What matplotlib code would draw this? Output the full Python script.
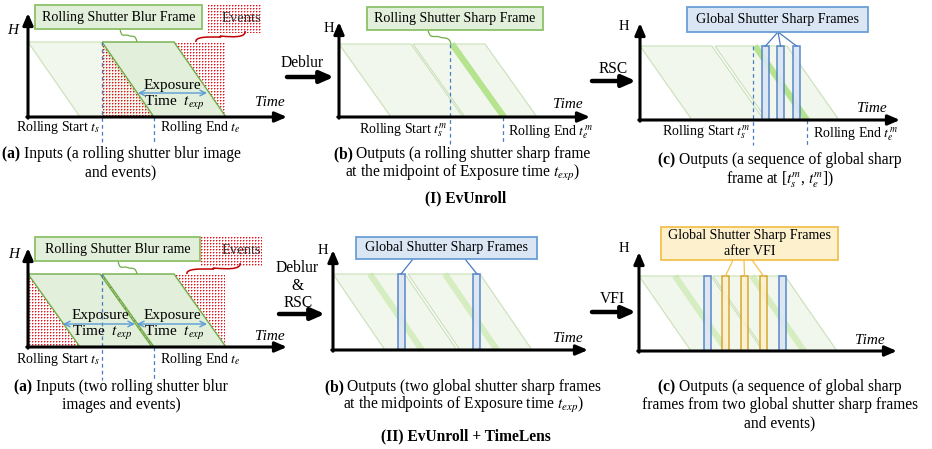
"""
Rolling-shutter timing diagram: EvUnroll vs. EvUnroll + TimeLens
"""
import numpy as np
import matplotlib
import matplotlib.pyplot as plt
from matplotlib.patches import Polygon, Rectangle
from matplotlib.path import Path as MPath
from matplotlib.patches import PathPatch

matplotlib.use("Agg")

plt.rcParams['font.family'] = ['Liberation Serif', 'DejaVu Serif']
plt.rcParams['mathtext.fontset'] = 'stix'

# ---- panel axes: origin x, baseline y, frame-top y, x-axis end, y-axis tip
panel_x0 = [28, 339, 640, 28, 333, 639]
panel_ybot = [117, 117, 120, 347, 350, 351]
panel_ytop = [42, 44, 46, 274, 274, 276]
panel_xend = [287, 590, 900, 287, 588, 897]
panel_ytip = [13, 22, 23, 248, 250, 252]

# rolling-shutter frames (top-left time of each frame), per panel
ghost_frames = [[28], [339, 413], [640, 715], [], [333, 408], [639, 713]]
blur_frames = [[102], [], [], [28, 102], [], []]
frame_width = 72
frame_slant = 52

# sharp rolling-shutter lines (top time), per panel
sharp_lines = [[], [452], [755], [], [], []]
sharp_lines_faint = [[], [], [], [], [370, 445], [675, 752]]

# global shutter frames (left edge)
gs_blue = [[], [], [762, 777, 793], [], [398, 473], [704, 779]]
gs_orange = [[], [], [], [], [], [722, 741, 760]]
gs_width = 7

GREEN_EDGE = '#70ad47'
GREEN_FILL = '#e2efda'
GHOST_FILL = '#f1f7ec'
GHOST_EDGE = '#c9e0b8'
SHARP = '#b5e38e'
BLUE_EDGE = '#4a7cc4'
BLUE_FILL = '#dae6f4'
ORANGE_EDGE = '#d4a020'
ORANGE_FILL = '#fdf0cc'
DASH_BLUE = '#4a7cc4'
RED_RGB = (0.91, 0.06, 0.10)

fig = plt.figure(figsize=(9.32, 4.49), dpi=100)
ax = fig.add_axes([0, 0, 1, 1])


def para(x, ytop, ybot, fc, ec, lw, z):
    pts = [(x, ytop), (x + frame_width, ytop),
           (x + frame_width + frame_slant, ybot), (x + frame_slant, ybot)]
    ax.add_patch(Polygon(pts, closed=True, fc=fc, ec=ec, lw=lw, zorder=z))


def dots(x0, x1, y0, y1, z=2):
    # event dots on a 3 px lattice, drawn as a pixel-exact image
    img = np.zeros((y1 - y0, x1 - x0, 4))
    img[..., :3] = RED_RGB
    img[1::3, 1::3, 3] = 1.0
    img[2::3, 1::3, 3] = 0.45
    img[1::3, 2::3, 3] = 0.45
    ax.imshow(img, extent=(x0, x1, y1, y0), interpolation='nearest',
              aspect='auto', zorder=z)


def axes_arrows(i):
    x0, yb = panel_x0[i], panel_ybot[i]
    kw = dict(arrowstyle='-|>,head_length=0.7,head_width=0.3', lw=2.2,
              color='black', shrinkA=0, shrinkB=0)
    ax.annotate('', xy=(x0, panel_ytip[i]), xytext=(x0, yb + 1.2),
                arrowprops=kw, zorder=10)
    ax.annotate('', xy=(panel_xend[i], yb), xytext=(x0 - 1.2, yb),
                arrowprops=kw, zorder=10)


def step_arrow(x0, x1, y):
    ax.annotate('', xy=(x1, y), xytext=(x0, y),
                arrowprops=dict(arrowstyle='-|>,head_length=0.8,head_width=0.35',
                                lw=3.2, color='black', shrinkA=0, shrinkB=0))


def vdash(x, y0, y1):
    ax.plot([x, x], [y0, y1], color=DASH_BLUE, lw=0.9, ls=(0, (3, 2.5)), zorder=6)


def label_box(x0, y0, x1, y1, text, fc, ec, size=10.1):
    ax.add_patch(Rectangle((x0, y0), x1 - x0, y1 - y0, fc=fc, ec=ec,
                           lw=1.3, zorder=8))
    ax.text((x0 + x1) / 2, (y0 + y1) / 2, text, ha='center', va='center',
            fontsize=size, zorder=9, linespacing=1.35)


def squiggle(p0, p1, color, lw=0.9):
    (xa, ya), (xb, yb) = p0, p1
    verts = [(xa, ya), (xa + 2, ya + 10), ((xa + xb) / 2 - 5, (ya + yb) / 2 - 2),
             ((xa + xb) / 2, (ya + yb) / 2),
             ((xa + xb) / 2 + 5, (ya + yb) / 2 + 2), (xb - 2, yb - 8), (xb, yb)]
    codes = [MPath.MOVETO, MPath.CURVE4, MPath.CURVE4, MPath.CURVE4,
             MPath.CURVE4, MPath.CURVE4, MPath.CURVE4]
    ax.add_patch(PathPatch(MPath(verts, codes), fc='none', ec=color, lw=lw, zorder=7))


def caption(cx, y, bold, rest, size=11.2):
    r = fig.canvas.get_renderer()
    tb = ax.text(0, y, bold, fontsize=size, fontweight='bold', va='center')
    tr = ax.text(0, y, rest, fontsize=size, va='center')
    w1 = tb.get_window_extent(r).width
    w2 = tr.get_window_extent(r).width
    start = cx - (w1 + w2) / 2
    tb.set_x(start)
    tr.set_x(start + w1)


def center_text(cx, y, s, size=11.2, **kw):
    ax.text(cx, y, s, fontsize=size, ha='center', va='center', **kw)


# ---- frames, dots, lines
for i in range(6):
    yt, yb = panel_ytop[i], panel_ybot[i]
    for x in ghost_frames[i]:
        para(x, yt, yb, GHOST_FILL, GHOST_EDGE, 0.8, 1)

# event dots inside the exposure windows
dots(102, 225, 42, 117)
dots(28, 225, 274, 347)
# "Events" legend patches
dots(207, 262, 4, 33)
dots(200, 262, 236, 267)

ax.set_xlim(0, 932)
ax.set_ylim(449, 0)
ax.axis('off')

for i in range(6):
    yt, yb = panel_ytop[i], panel_ybot[i]
    for x in blur_frames[i]:
        para(x, yt, yb, GREEN_FILL, GREEN_EDGE, 1.0, 3)
    for x in sharp_lines[i]:
        ax.plot([x, x + frame_slant], [yt, yb], color=SHARP, lw=4.5,
                solid_capstyle='butt', zorder=4)
    for x in sharp_lines_faint[i]:
        ax.plot([x, x + frame_slant], [yt, yb], color=SHARP, lw=4.5, alpha=0.45,
                solid_capstyle='butt', zorder=4)
    for x in gs_blue[i]:
        ax.add_patch(Rectangle((x, yt), gs_width, yb - yt, fc=BLUE_FILL,
                               ec=BLUE_EDGE, lw=1.1, alpha=0.9, zorder=5))
    for x in gs_orange[i]:
        ax.add_patch(Rectangle((x, yt), gs_width, yb - yt, fc=ORANGE_FILL,
                               ec=ORANGE_EDGE, lw=1.1, alpha=0.9, zorder=5))
    axes_arrows(i)

# ---- (I)(a)
ax.text(13, 31, 'H', fontsize=11, style='italic', ha='center', va='center')
ax.text(270, 103, 'Time', fontsize=11, style='italic', ha='center', va='center')
vdash(102, 42, 142)
vdash(154, 117, 142)
center_text(172, 85, 'Exposure', 11, zorder=6)
center_text(174, 103, r'Time  $t_{exp}$', 11, zorder=6)
ax.annotate('', xy=(207, 93), xytext=(138, 93),
            arrowprops=dict(arrowstyle='<->,head_length=0.4,head_width=0.2',
                            color='#5b9bd5', lw=1.0, shrinkA=0, shrinkB=0), zorder=6)
label_box(35, 5, 202, 29, 'Rolling Shutter Blur Frame', GREEN_FILL, '#8cc168')
squiggle((120, 29), (137, 42), GREEN_EDGE)
squiggle((245, 31), (196, 42), '#c00000', 1.1)
ax.text(241, 18, 'Events', fontsize=10.5, ha='center', va='center', zorder=9,
        color='#333333')
ax.text(58, 128, r'Rolling Start $t_s$', fontsize=10, ha='center', va='center')
ax.text(200, 128, r'Rolling End $t_e$', fontsize=10, ha='center', va='center')
caption(121, 154, '(a) ', 'Inputs (a rolling shutter blur image')
center_text(121, 172, 'and events)')

# ---- (I)(b)
step_arrow(287, 334, 77)
center_text(302, 63, 'Deblur')
ax.text(329, 28, 'H', fontsize=10.5, ha='center', va='center')
ax.text(568, 105, 'Time', fontsize=11, style='italic', ha='center', va='center')
vdash(450, 44, 144)
vdash(503, 117, 144)
label_box(367, 7, 543, 30, 'Rolling Shutter Sharp Frame', GREEN_FILL, '#8cc168')
squiggle((428, 30), (451, 44), GREEN_EDGE)
ax.text(403, 130, r'Rolling Start $t_s^m$', fontsize=10, ha='center', va='center')
ax.text(550, 132, r'Rolling End $t_e^m$', fontsize=10, ha='center', va='center')
caption(462, 154, '(b) ', 'Outputs (a rolling shutter sharp frame')
center_text(462, 173, r'at the midpoint of Exposure time $t_{exp}$)')

# ---- (I)(c)
step_arrow(592, 636, 81)
center_text(613, 69, 'RSC')
ax.text(624, 26, 'H', fontsize=10.5, ha='center', va='center')
ax.text(872, 108, 'Time', fontsize=11, style='italic', ha='center', va='center')
vdash(753, 46, 145)
vdash(807, 120, 145)
label_box(687, 7, 868, 32, 'Global Shutter Sharp Frames', BLUE_FILL, '#6b9fd6')
for x in gs_blue[2]:
    ax.plot([778, x + gs_width / 2], [32, 46], color=BLUE_EDGE, lw=0.9, zorder=6)
ax.text(706, 132, r'Rolling Start $t_s^m$', fontsize=10, ha='center', va='center')
ax.text(855, 134, r'Rolling End $t_e^m$', fontsize=10, ha='center', va='center')
caption(780, 160, '(c) ', 'Outputs (a sequence of global sharp')
center_text(780, 180, r'frame at [$t_s^m$, $t_e^m$])')

center_text(466, 198, '(I) EvUnroll', 11.2, fontweight='bold')

# ---- (II)(a)
ax.text(14, 254, 'H', fontsize=11, style='italic', ha='center', va='center')
ax.text(270, 336, 'Time', fontsize=11, style='italic', ha='center', va='center')
vdash(102, 274, 380)
vdash(154, 347, 380)
for cx, x0, x1 in [(100, 63, 135), (172, 137, 207)]:
    center_text(cx, 315, 'Exposure', 11, zorder=6)
    center_text(cx + 2, 333, r'Time  $t_{exp}$', 11, zorder=6)
    ax.annotate('', xy=(x1, 324), xytext=(x0, 324),
                arrowprops=dict(arrowstyle='<->,head_length=0.4,head_width=0.2',
                                color='#5b9bd5', lw=1.0, shrinkA=0, shrinkB=0),
                zorder=6)
label_box(35, 237, 200, 261, 'Rolling Shutter Blur rame', GREEN_FILL, '#8cc168')
squiggle((118, 261), (137, 274), GREEN_EDGE)
squiggle((240, 263), (187, 274), '#c00000', 1.1)
ax.text(241, 250, 'Events', fontsize=10.5, ha='center', va='center', zorder=9,
        color='#333333')
ax.text(58, 360, r'Rolling Start $t_s$', fontsize=10, ha='center', va='center')
ax.text(200, 360, r'Rolling End $t_e$', fontsize=10, ha='center', va='center')
caption(121, 387, '(a) ', 'Inputs (two rolling shutter blur')
center_text(121, 405, 'images and events)')

# ---- (II)(b)
step_arrow(279, 325, 314)
center_text(297, 268, 'Deblur')
center_text(297, 286, '&')
center_text(298, 303, 'RSC')
ax.text(323, 250, 'H', fontsize=10.5, ha='center', va='center')
ax.text(568, 338, 'Time', fontsize=11, style='italic', ha='center', va='center')
label_box(356, 237, 537, 259, 'Global Shutter Sharp Frames', BLUE_FILL, '#6b9fd6')
ax.plot([413, 401], [259, 274], color=BLUE_EDGE, lw=0.9, zorder=6)
ax.plot([465, 477], [259, 274], color=BLUE_EDGE, lw=0.9, zorder=6)
caption(463, 387, '(b) ', 'Outputs (two global shutter sharp frames')
center_text(463, 405, r'at the midpoints of Exposure time $t_{exp}$)')

# ---- (II)(c)
step_arrow(592, 636, 312)
center_text(612, 299, 'VFI')
ax.text(624, 249, 'H', fontsize=10.5, ha='center', va='center')
ax.text(870, 340, 'Time', fontsize=11, style='italic', ha='center', va='center')
label_box(661, 227, 838, 260, 'Global Shutter Sharp Frames\nafter VFI',
          ORANGE_FILL, '#f2c14e')
for xa, x in zip([733, 744, 752], gs_orange[5]):
    ax.plot([xa, x + gs_width / 2], [260, 276], color='#f2c14e', lw=0.9, zorder=6)
caption(780, 387, '(c) ', 'Outputs (a sequence of global sharp')
center_text(780, 405, 'frames from two global shutter sharp frames')
center_text(780, 423, 'and events)')

center_text(466, 436, '(II) EvUnroll + TimeLens', 11.2, fontweight='bold')

fig.savefig('out.png', dpi=100)
plt.close(fig)
